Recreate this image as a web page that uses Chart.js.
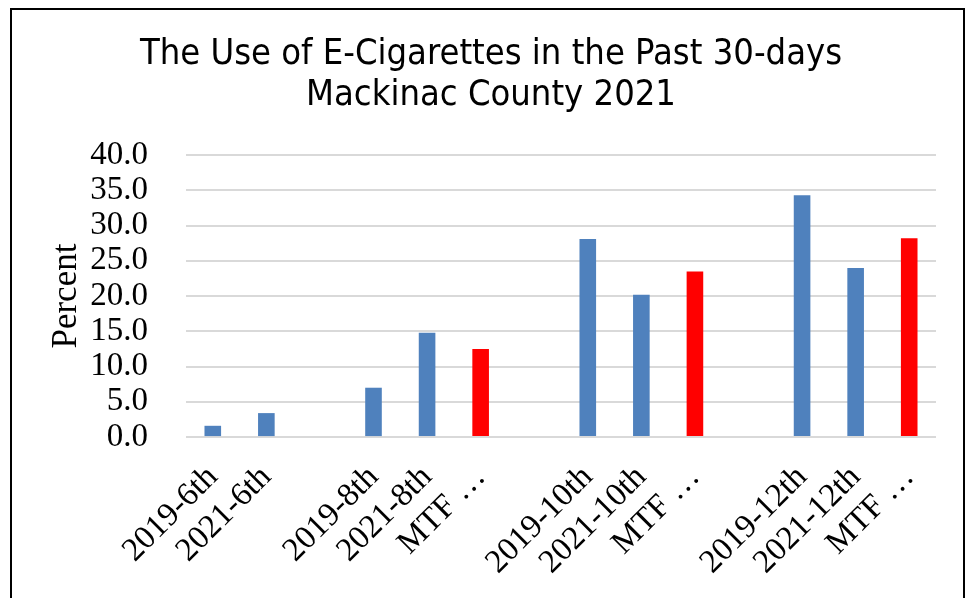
<!DOCTYPE html>
<html>
<head>
<meta charset="utf-8">
<script src="https://cdn.jsdelivr.net/npm/chart.js@4.4.1/dist/chart.umd.min.js"></script>
<style>
  html, body { margin: 0; padding: 0; background: #fff; overflow: hidden; }
  #frame {
    position: absolute; left: 10px; top: 8px;
    width: 951px; height: 700px;
    border: 2px solid #000;
  }
  #myChart { position: absolute; left: 0; top: 0; }
</style>
</head>
<body>
<div id="frame"></div>
<canvas id="myChart" width="969" height="598"></canvas>
<script>
// categorias (vazias = espaço entre grupos)
const categorias = [
  "2019-6th", "2021-6th", "",
  "2019-8th", "2021-8th", "MTF …", "",
  "2019-10th", "2021-10th", "MTF …", "",
  "2019-12th", "2021-12th", "MTF …"
];

// percentuais
const valores = [
  1.6, 3.4, null,
  7.0, 14.8, 12.5, null,
  28.1, 20.2, 23.5, null,
  34.3, 24.0, 28.2
];

const tituloLinhas = ["The Use of E-Cigarettes in the Past 30-days", "Mackinac County 2021"];
const yTicks = [0, 5, 10, 15, 20, 25, 30, 35, 40];

const azul = "#4f81bd";
const vermelho = "#ff0000";
const fonteSerif = "'Liberation Serif', 'Times New Roman', serif";

// MTF (Monitoring the Future) em vermelho
const cores = categorias.map((c) => (c.startsWith("MTF") ? vermelho : azul));

const config = {
  type: "bar",
  data: {
    labels: categorias,
    datasets: [
      {
        label: "Percent",
        data: valores,
        backgroundColor: cores,
        borderWidth: 0,
        categoryPercentage: 1.0,
        barPercentage: 0.31,
      },
    ],
  },
  options: {
    responsive: false,
    animation: false,
    layout: {
      padding: { top: 34, left: 46, right: 33, bottom: 3 },
    },
    plugins: {
      legend: { display: false },
      tooltip: { enabled: false },
      title: {
        display: true,
        text: tituloLinhas,
        color: "#000",
        font: { family: "'DejaVu Sans Condensed', 'DejaVu Sans', sans-serif", size: 36, weight: "normal", lineHeight: 1.14 },
        padding: { top: 0, bottom: 39 },
      },
    },
    scales: {
      x: {
        grid: { display: false },
        border: { display: false },
        ticks: {
          color: "#000",
          autoSkip: false,
          maxRotation: 45,
          minRotation: 45,
          padding: 13,
          font: { family: fonteSerif, size: 33 },
        },
      },
      y: {
        min: 0,
        max: 40,
        afterBuildTicks: (axis) => {
          axis.ticks = yTicks.map((v) => ({ value: v }));
        },
        afterFit: (axis) => {
          axis.width = 140; // largura fixa do eixo (título + rótulos)
        },
        grid: { color: "#d9d9d9", lineWidth: 2, drawTicks: false },
        border: { display: false },
        ticks: {
          color: "#000",
          autoSkip: false,
          padding: 38,
          font: { family: fonteSerif, size: 33 },
          callback: (v) => Number(v).toFixed(1),
        },
        title: {
          display: true,
          text: "Percent",
          color: "#000",
          font: { family: fonteSerif, size: 35 },
          padding: { top: 0, bottom: 10 },
        },
      },
    },
  },
};

const ctx = document.getElementById("myChart").getContext("2d");
const myChart = new Chart(ctx, config);
</script>
</body>
</html>
